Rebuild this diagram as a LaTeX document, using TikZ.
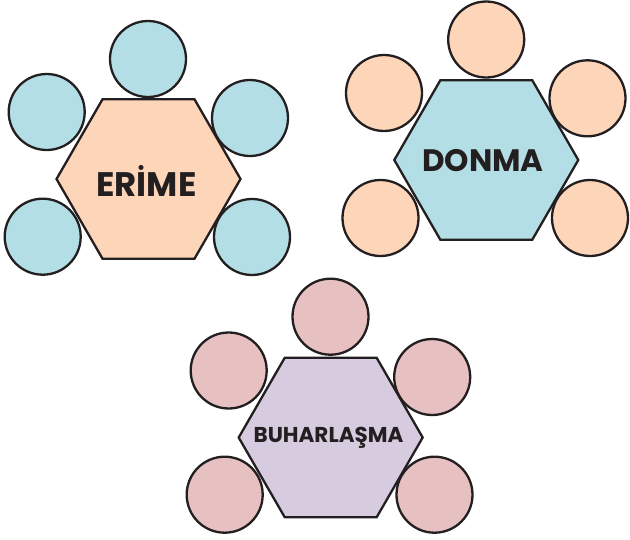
\documentclass[tikz,border=0pt]{standalone}
\usepackage{fontspec}
\setmainfont{Poppins}[BoldFont={Poppins Bold}]
\usetikzlibrary{shapes.geometric}
\definecolor{inkc}{HTML}{231F20}
\definecolor{blueF}{HTML}{B4DEE5}
\definecolor{peachF}{HTML}{FDD5B8}
\definecolor{pinkF}{HTML}{E7C0C1}
\definecolor{lavF}{HTML}{D7CBDF}
\tikzset{
  ball/.style={circle, draw=inkc, line width=2.3pt, minimum size=76pt, inner sep=0pt},
  hexa/.style={regular polygon, regular polygon sides=6, draw=inkc, line width=2.3pt, minimum size=184pt, inner sep=0pt},
  word/.style={text=inkc, font=\bfseries, inner sep=0pt}
}
\begin{document}
\begin{tikzpicture}[x=1pt,y=-1pt]
\useasboundingbox (0,0) rectangle (630,539);
% ERIME
\foreach \n/\p in {et/{(148,59)}, eul/{(46.7,112)}, eur/{(250,118)}, ell/{(42.7,236.7)}, elr/{(252,237)}}
  \node[ball, fill=blueF] (\n) at \p {};
\node[hexa, fill=peachF] (ehex) at (148.5,179) {};
\node[word, font=\fontsize{34}{38}\bfseries\selectfont] (etext) at (146.5,181) {ERİME};
% DONMA
\foreach \n/\p in {dt/{(486.2,39.5)}, dul/{(384,93)}, dur/{(587.5,98.3)}, dll/{(380.5,218)}, dlr/{(590,218)}}
  \node[ball, fill=peachF] (\n) at \p {};
\node[hexa, fill=blueF] (dhex) at (486.3,160) {};
\node[word, font=\fontsize{31}{36}\bfseries\selectfont] (dtext) at (483,161) {DONMA};
% BUHARLASMA
\foreach \n/\p in {bt/{(330.5,316.7)}, bul/{(228.7,370.5)}, bur/{(432.2,377)}, bll/{(224.7,494.7)}, blr/{(434.5,494.7)}}
  \node[ball, fill=pinkF] (\n) at \p {};
\node[hexa, fill=lavF] (bhex) at (330.7,437.5) {};
\node[word, font=\fontsize{21.5}{26}\bfseries\selectfont] (btext) at (328.5,438) {BUHARLAŞMA};
\end{tikzpicture}
\end{document}
